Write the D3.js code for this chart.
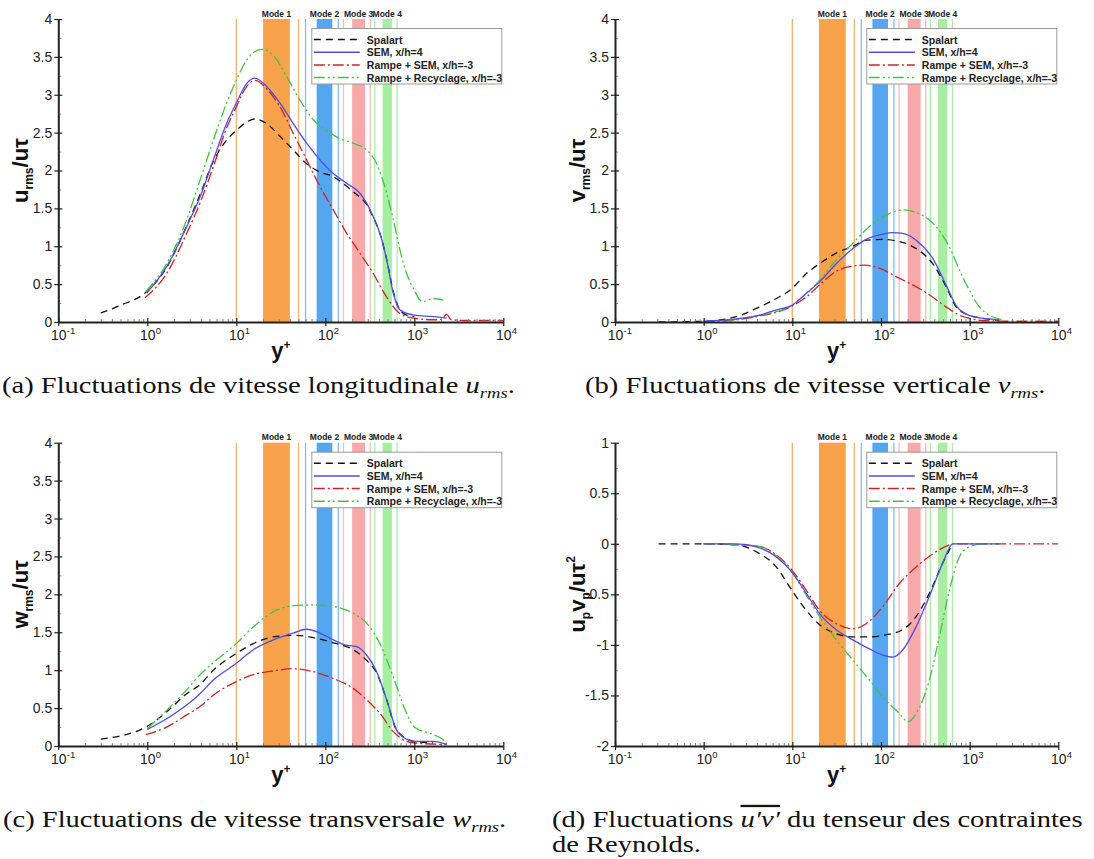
<!DOCTYPE html>
<html><head><meta charset="utf-8">
<script src="https://cdn.jsdelivr.net/npm/d3@7"></script>
<style>body{margin:0;background:#fff}svg{display:block}</style>
</head><body>
<svg id="chart" width="1094" height="859"></svg>
<script>
// ---------------- data ----------------
const seriesNames = ["Spalart", "SEM, x/h=4", "Rampe + SEM, x/h=-3", "Rampe + Recyclage, x/h=-3"];
const modeNames = ["Mode 1", "Mode 2", "Mode 3", "Mode 4"];
const modeBands = [[20, 40], [80, 120], [200, 280], [440, 560]];
const modeEdgeLines = [[10, 50], [60, 140], [160, 320], [360, 640]];
const xTickExponents = [-1, 0, 1, 2, 3, 4];
const yTicksRms = [0, 0.5, 1, 1.5, 2, 2.5, 3, 3.5, 4];
const yTicksUV = [-2, -1.5, -1, -0.5, 0, 0.5, 1];

// (a) u_rms / u_tau
const urmsSpalart = [[0.3,0.12],[0.5,0.22],[0.98,0.4],[1.65,0.72],[2.77,1.27],[3.91,1.68],[5.52,2.12],[7.78,2.4],[10,2.53],[13.1,2.64],[16.2,2.68],[21.9,2.62],[31,2.45],[43.7,2.27],[61.7,2.09],[87,1.98],[123,1.92],[146,1.86],[206,1.72],[291,1.55],[346,1.38],[411,1.17],[489,0.83],[581,0.4],[690,0.16],[820,0.09],[1000,0.07]];
const urmsSEM = [[0.98,0.38],[1.65,0.73],[2.77,1.26],[3.91,1.65],[5.52,2.14],[7.78,2.62],[10,2.89],[13.1,3.15],[16.2,3.22],[21.9,3.11],[31,2.89],[43.7,2.62],[61.7,2.36],[87,2.14],[123,1.96],[174,1.83],[245,1.7],[291,1.57],[346,1.39],[411,1.17],[489,0.82],[581,0.38],[690,0.16],[1000,0.09],[1634,0.07],[2307,0.05]];
const urmsRampeSEM = [[0.94,0.32],[1.65,0.64],[2.77,1.17],[3.91,1.57],[5.52,2.05],[7.78,2.56],[10,2.84],[13.1,3.11],[16.2,3.19],[21.9,3.08],[31,2.84],[43.7,2.49],[61.7,2.14],[87,1.79],[123,1.48],[174,1.17],[245,0.91],[346,0.64],[489,0.33],[690,0.11],[1000,0.05],[1634,0.03],[1941,0.03],[2118,0.06],[2307,0.1],[2600,0.03],[4000,0.02],[10000,0.02]];
const urmsRecyclage = [[0.96,0.4],[1.65,0.77],[2.77,1.35],[3.91,1.87],[5.52,2.4],[7.78,2.89],[10,3.19],[13.1,3.46],[19.3,3.6],[26.1,3.52],[36.8,3.24],[51.9,2.93],[73.3,2.67],[103,2.53],[146,2.42],[206,2.36],[291,2.27],[378,2.09],[489,1.7],[581,1.35],[690,0.95],[820,0.64],[1000,0.42],[1158,0.29],[1262,0.27],[1634,0.31],[2118,0.29]];

// (b) v_rms / u_tau
const vrmsSpalart = [[0.31,0.0],[1,0.01],[2.34,0.07],[3.94,0.18],[6.61,0.31],[9.9,0.44],[14.4,0.64],[20.3,0.77],[31.3,0.91],[48.2,1.0],[68.1,1.08],[105,1.09],[162,1.06],[249,0.97],[383,0.77],[541,0.47],[702,0.2],[975,0.09],[1400,0.05],[2158,0.02]];
const vrmsSEM = [[1,0.01],[2.34,0.04],[3.94,0.08],[6.61,0.16],[9.9,0.22],[14.4,0.38],[20.3,0.53],[31.3,0.77],[48.2,0.97],[68.1,1.09],[105,1.16],[136,1.18],[176,1.17],[249,1.08],[383,0.84],[541,0.49],[702,0.22],[975,0.09],[1400,0.05],[2158,0.03]];
const vrmsRampeSEM = [[1,0.0],[3.94,0.07],[9.9,0.21],[14.4,0.33],[20.3,0.49],[31.3,0.67],[44.2,0.73],[65.2,0.75],[96.2,0.71],[148,0.6],[228,0.49],[351,0.36],[541,0.2],[765,0.09],[975,0.05],[1400,0.02],[3000,0.01],[10000,0.01]];
const vrmsRecyclage = [[1,0.0],[3.94,0.08],[9.9,0.22],[14.4,0.38],[20.3,0.55],[31.3,0.82],[48.2,1.04],[74.2,1.26],[114,1.41],[176,1.48],[271,1.43],[418,1.26],[591,0.99],[765,0.69],[991,0.42],[1285,0.2],[1663,0.09],[2351,0.03]];

// (c) w_rms / u_tau
const wrmsSpalart = [[0.3,0.09],[1,0.26],[1.65,0.45],[2.77,0.69],[3.91,0.81],[5.52,1.0],[10,1.22],[15.5,1.35],[26.1,1.44],[43.7,1.46],[73.3,1.43],[123,1.36],[206,1.27],[291,1.13],[378,0.96],[489,0.61],[633,0.21],[1000,0.06],[1634,0.04]];
const wrmsSEM = [[1,0.22],[1.65,0.36],[2.77,0.54],[3.91,0.69],[5.52,0.87],[10,1.09],[15.5,1.27],[26.1,1.4],[43.7,1.49],[61.7,1.54],[87,1.49],[123,1.4],[159,1.34],[225,1.31],[291,1.2],[378,0.98],[489,0.61],[633,0.21],[820,0.09],[1000,0.06],[1634,0.06],[2307,0.02]];
const wrmsRampeSEM = [[0.96,0.15],[1.65,0.25],[2.77,0.41],[3.91,0.52],[5.52,0.67],[10,0.85],[15.5,0.94],[26.1,0.99],[43.7,1.02],[73.3,0.98],[123,0.89],[206,0.76],[291,0.61],[411,0.43],[581,0.19],[820,0.06],[1000,0.04],[2307,0.02]];
const wrmsRecyclage = [[1,0.23],[1.65,0.47],[2.77,0.74],[3.91,0.94],[5.52,1.1],[10,1.35],[15.5,1.57],[26.1,1.77],[43.7,1.85],[73.3,1.86],[123,1.84],[206,1.75],[291,1.62],[411,1.35],[581,0.91],[820,0.43],[1000,0.25],[1634,0.15],[2118,0.08],[2307,0.03]];

// (d) u'v' / u_tau^2
const uvSpalart = [[0.31,0],[1,0],[2.34,-0.01],[3.94,-0.08],[6.61,-0.23],[9.9,-0.46],[14.4,-0.66],[20.3,-0.8],[31.3,-0.89],[48.2,-0.92],[74.2,-0.92],[114,-0.9],[176,-0.85],[249,-0.72],[351,-0.49],[497,-0.19],[644,0]];
const uvSEM = [[1,0],[2.34,0],[3.94,-0.03],[6.61,-0.13],[9.9,-0.28],[14.4,-0.49],[20.3,-0.69],[31.3,-0.85],[48.2,-0.95],[74.2,-1.04],[105,-1.1],[136,-1.12],[176,-1.05],[249,-0.82],[351,-0.52],[497,-0.19],[644,0],[1000,0],[2158,0]];
const uvRampeSEM = [[1,0],[3.94,-0.02],[6.61,-0.11],[9.9,-0.26],[14.4,-0.46],[20.3,-0.66],[31.3,-0.79],[48.2,-0.84],[68.1,-0.79],[105,-0.62],[162,-0.39],[249,-0.23],[383,-0.1],[591,-0.01],[644,0],[10000,0]];
const uvRecyclage = [[1,0],[3.94,-0.02],[6.61,-0.12],[9.9,-0.28],[14.4,-0.51],[20.3,-0.72],[31.3,-0.95],[48.2,-1.15],[74.2,-1.35],[114,-1.55],[162,-1.68],[201,-1.76],[249,-1.68],[351,-1.35],[455,-0.92],[591,-0.46],[765,-0.13],[991,-0.03],[1400,0],[2158,0]];

// ---------------- styles ----------------
const seriesColors = ["#111111", "#4d4de6", "#cf2424", "#3ec63e"];
const seriesDash = ["7,5", null, "11,3,2,3", "11,3,2,3,2,3"];
const bandColors = ["#f8a24c", "#56a5ef", "#f8a9a9", "#a6efa0"];
const edgeColors = ["#f5b271", "#84bdf2", "#f6bcbc", "#acedaa"];
const sans = "Liberation Sans, Arial, Helvetica, sans-serif";
const serif = "Liberation Serif, Times New Roman, serif";

const panels = [
  {left:58.3, right:503.3, top:19, bottom:322, ydom:[0,4], yticks:yTicksRms,
   series:[urmsSpalart, urmsSEM, urmsRampeSEM, urmsRecyclage],
   ylabel:[{t:"u"},{t:"rms",sub:1},{t:"/u"},{t:"τ"}]},
  {left:615, right:1058.3, top:19, bottom:322, ydom:[0,4], yticks:yTicksRms,
   series:[vrmsSpalart, vrmsSEM, vrmsRampeSEM, vrmsRecyclage],
   ylabel:[{t:"v"},{t:"rms",sub:1},{t:"/u"},{t:"τ"}]},
  {left:58.3, right:503.3, top:442.7, bottom:746, ydom:[0,4], yticks:yTicksRms,
   series:[wrmsSpalart, wrmsSEM, wrmsRampeSEM, wrmsRecyclage],
   ylabel:[{t:"w"},{t:"rms",sub:1},{t:"/u"},{t:"τ"}]},
  {left:615, right:1058.3, top:442.7, bottom:746, ydom:[-2,1], yticks:yTicksUV,
   series:[uvSpalart, uvSEM, uvRampeSEM, uvRecyclage],
   ylabel:[{t:"u"},{t:"p",sub:1},{t:"v"},{t:"p",sub:1},{t:"/u"},{t:"τ"},{t:"2",sup:1}]}
];

const svg = d3.select("#chart");

function addParts(textSel, parts, size, subSize, subShift, supShift) {
  let cur = 0;
  parts.forEach(p => {
    const ts = textSel.append("tspan").text(p.t);
    let target = 0;
    if (p.sub) { ts.attr("font-size", subSize); target = subShift; }
    if (p.sup) { ts.attr("font-size", subSize); target = -supShift; }
    if (p.it) ts.attr("font-style", "italic");
    if (p.over) ts.style("text-decoration", "overline");
    if (target !== cur) { ts.attr("dy", target - cur); cur = target; }
  });
}

panels.forEach(P => {
  const x = d3.scaleLog().domain([0.1, 1e4]).range([P.left, P.right]);
  const y = d3.scaleLinear().domain(P.ydom).range([P.bottom, P.top]);
  const g = svg.append("g");

  // mode bands and lines
  const modes = g.append("g");
  modeBands.forEach((b, i) => {
    modes.append("rect").attr("x", x(b[0])).attr("width", x(b[1]) - x(b[0]))
      .attr("y", y(P.ydom[1])).attr("height", y(P.ydom[0]) - y(P.ydom[1]))
      .attr("fill", bandColors[i]);
    modeEdgeLines[i].forEach(v => {
      modes.append("line").attr("x1", x(v)).attr("x2", x(v))
        .attr("y1", y(P.ydom[1])).attr("y2", y(P.ydom[0]))
        .attr("stroke", edgeColors[i]).attr("stroke-width", 1.3);
    });
    modes.append("text").attr("x", x(Math.sqrt(b[0] * b[1]))).attr("y", P.top - 2.5)
      .attr("text-anchor", "middle").attr("font-family", sans).attr("font-weight", "bold")
      .attr("font-size", 8.5).attr("fill", "#222").text(modeNames[i]);
  });

  // curves
  const line = d3.line().x(d => x(d[0])).y(d => y(d[1])).curve(d3.curveMonotoneX);
  [0, 2, 3, 1].forEach(k => {
    g.append("path").datum(P.series[k]).attr("d", line).attr("fill", "none")
      .attr("stroke", seriesColors[k]).attr("stroke-width", 1.3)
      .attr("stroke-dasharray", seriesDash[k]);
  });

  // axes
  const axisStyle = sel => {
    sel.selectAll(".domain").attr("stroke", "#222").attr("stroke-width", 2);
    sel.selectAll(".tick line").attr("stroke", "#222").attr("stroke-width", 1.2);
    sel.selectAll(".tick text").attr("font-family", sans).attr("font-size", 14).attr("fill", "#222");
  };
  const yMinor = d3.range(P.ydom[0], P.ydom[1] + 1e-9, 0.25).filter(v => Math.abs(v * 2 - Math.round(v * 2)) > 1e-6);
  g.append("g").attr("transform", `translate(${P.left},0)`)
    .call(d3.axisRight(y).tickValues(yMinor).tickSize(3).tickSizeOuter(0).tickFormat(""))
    .call(s => { s.select(".domain").remove(); s.selectAll(".tick line").attr("stroke", "#999").attr("stroke-width", 1); });
  g.append("g").attr("transform", `translate(${P.left},0)`)
    .call(d3.axisRight(y).tickValues(P.yticks).tickSize(4).tickSizeOuter(0).tickFormat(""))
    .call(s => { s.select(".domain").remove(); s.selectAll(".tick line").attr("stroke", "#222").attr("stroke-width", 1.2); });
  g.append("g").attr("transform", `translate(${P.left},0)`)
    .call(d3.axisLeft(y).tickValues(P.yticks).tickSize(4).tickPadding(2).tickSizeOuter(0).tickFormat(v => String(v)))
    .call(axisStyle);

  const xMajor = xTickExponents.map(e => Math.pow(10, e));
  const xMinor = [];
  for (let e = -1; e < 4; e++) for (let m = 2; m <= 9; m++) xMinor.push(m * Math.pow(10, e));
  const yBase = y(P.ydom[0]);
  g.append("g").attr("transform", `translate(0,${yBase})`)
    .call(d3.axisTop(x).tickValues(xMinor).tickSize(3).tickSizeOuter(0).tickFormat(""))
    .call(s => { s.select(".domain").remove(); s.selectAll(".tick line").attr("stroke", "#888").attr("stroke-width", 1); });
  g.append("g").attr("transform", `translate(0,${yBase})`)
    .call(d3.axisTop(x).tickValues(xMajor).tickSize(4).tickSizeOuter(0).tickFormat(""))
    .call(s => { s.select(".domain").remove(); s.selectAll(".tick line").attr("stroke", "#222").attr("stroke-width", 1.2); });
  const gx = g.append("g").attr("transform", `translate(0,${yBase})`)
    .call(d3.axisBottom(x).tickValues(xMajor).tickSize(4).tickSizeOuter(0).tickFormat(""))
    .call(axisStyle);
  gx.selectAll(".tick").each(function(d) {
    const t = d3.select(this);
    const e = Math.round(Math.log10(d));
    t.append("text").attr("x", 0).attr("y", 18).attr("text-anchor", "middle")
      .attr("font-family", sans).attr("font-size", 14).attr("fill", "#222").text("10");
    t.append("text").attr("x", 8).attr("y", 12).attr("text-anchor", "start")
      .attr("font-family", sans).attr("font-size", 9.5).attr("fill", "#222").text(String(e));
  });

  // axis titles
  const xt = g.append("text").attr("x", (P.left + P.right) / 2).attr("y", P.bottom + 36)
    .attr("text-anchor", "middle").attr("font-family", sans).attr("font-weight", "bold")
    .attr("font-size", 22).attr("fill", "#111");
  addParts(xt, [{t:"y"},{t:"+",sup:1}], 22, 12, 0, 9);
  const yt = g.append("text").attr("transform", `translate(${P.left - 30},${(P.top + P.bottom) / 2}) rotate(-90)`)
    .attr("text-anchor", "middle").attr("font-family", sans).attr("font-weight", "bold")
    .attr("font-size", 22).attr("fill", "#111");
  addParts(yt, P.ylabel, 22, 12, 5, 10);

  // legend
  const lx = P.right - 191.5, ly = P.top + 9.5;
  const lg = g.append("g").attr("transform", `translate(${lx},${ly})`);
  lg.append("rect").attr("width", 190).attr("height", 55.5).attr("fill", "#fff")
    .attr("stroke", "#9a9a9a").attr("stroke-width", 1);
  seriesNames.forEach((name, k) => {
    const ry = 11 + k * 12.7;
    lg.append("line").attr("x1", 2).attr("x2", 48).attr("y1", ry).attr("y2", ry)
      .attr("stroke", seriesColors[k]).attr("stroke-width", 1.5).attr("stroke-dasharray", seriesDash[k]);
    lg.append("text").attr("x", 55).attr("y", ry + 4).attr("font-family", sans)
      .attr("font-weight", "bold").attr("font-size", 10.5).attr("fill", "#222").text(name);
  });
});

// ---------------- captions ----------------
const captions = [
  {x:2, y:393, parts:[{t:"(a) Fluctuations de vitesse longitudinale "},{t:"u",it:1},{t:"rms",it:1,sub:1},{t:"."}]},
  {x:585, y:393, parts:[{t:"(b) Fluctuations de vitesse verticale "},{t:"v",it:1},{t:"rms",it:1,sub:1},{t:"."}]},
  {x:3, y:827, parts:[{t:"(c) Fluctuations de vitesse transversale "},{t:"w",it:1},{t:"rms",it:1,sub:1},{t:"."}]},
  {x:552, y:827, parts:[{t:"(d) Fluctuations "},{t:"u′v′",it:1,over:1},{t:" du tenseur des contraintes"}]},
  {x:552, y:852, parts:[{t:"de Reynolds."}]}
];
const capNodes = captions.map(c => {
  const t = svg.append("text").attr("font-family", serif).attr("font-size", 23).attr("fill", "#111");
  addParts(t, c.parts, 23, 15, 5, 9);
  return t;
});
const natural = capNodes[0].node().getComputedTextLength();
const capScale = natural > 0 ? 513 / natural : 1;
capNodes.forEach((t, i) => t.attr("transform", `translate(${captions[i].x},${captions[i].y}) scale(${capScale},1)`));
</script>
</body></html>
